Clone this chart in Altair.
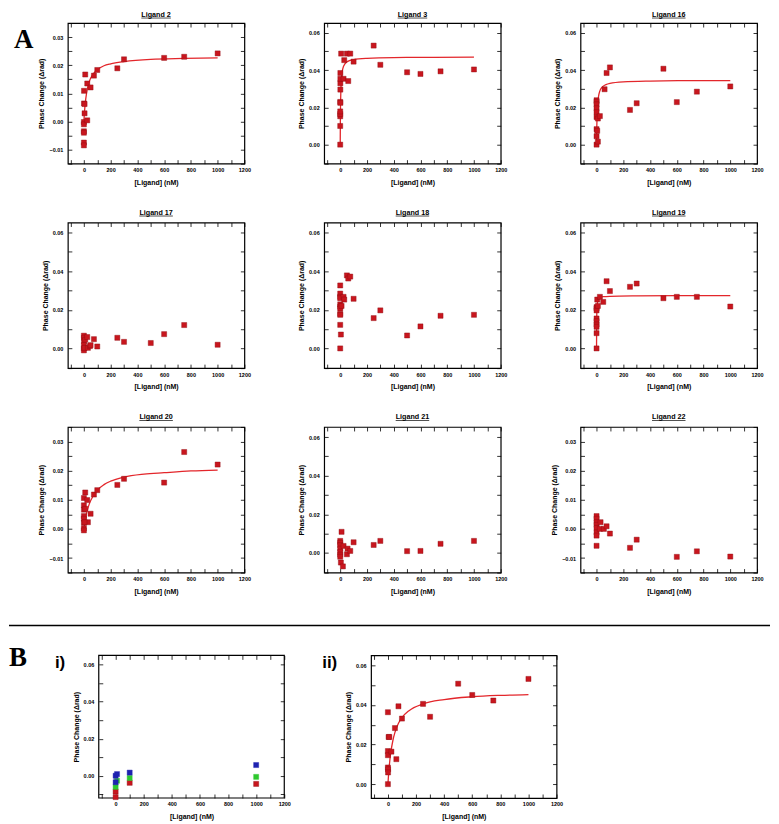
import altair as alt
import pandas as pd

# ---------------- data ----------------
L2_X = [0, 0, 0, 0, 0, 0, 1, 1, 5, 5, 10, 25, 25, 50, 75, 100, 250, 300, 600, 750, 1000]
L2_Y = [-0.0002, -0.0010, -0.0035, -0.0040, -0.0075, -0.0085, 0.0109, 0.0064, 0.0062, 0.0029,
        0.0167, 0.0004, 0.0135, 0.0121, 0.0163, 0.0183, 0.0189, 0.0221, 0.0226, 0.0230, 0.0242]
L2_CX = [0, 2, 5, 10, 20, 40, 70, 100, 150, 200, 300, 500, 750, 1000]
L2_CY = [0, 0.0017, 0.0037, 0.0064, 0.0101, 0.0141, 0.0169, 0.0184, 0.0198, 0.0205, 0.0213,
         0.0221, 0.0224, 0.0226]

L3_X = [0, 0, 0, 0, 0, 0, 1, 1, 1, 1, 1, 7, 25, 30, 50, 60, 75, 100, 250, 300, 500, 600, 750, 1000]
L3_Y = [0.0, 0.010, 0.0152, 0.0164, 0.0178, 0.0229, 0.0224, 0.0295, 0.0329, 0.0353, 0.0384,
        0.0488, 0.0353, 0.0453, 0.0488, 0.0341, 0.0488, 0.0445, 0.0531, 0.0428, 0.0388, 0.0379,
        0.0393, 0.0403]
L3_CX = [0, 1, 2, 3, 5, 8, 12, 20, 35, 60, 100, 200, 400, 700, 1000]
L3_CY = [0, 0.0118, 0.0188, 0.0235, 0.0294, 0.0342, 0.0376, 0.0409, 0.0433, 0.0448, 0.0456,
         0.0463, 0.0467, 0.0468, 0.0469]

L16_X = [0, 0, 0, 0, 0, 0, 0, 0, 0, 5, 10, 10, 25, 60, 75, 100, 250, 300, 500, 600, 750, 1000]
L16_Y = [0.0238, 0.0230, 0.0216, 0.0195, 0.0174, 0.0148, 0.0083, 0.0045, 0.0, 0.0074, 0.0140,
         0.0016, 0.0153, 0.0297, 0.0384, 0.0414, 0.0186, 0.0222, 0.0407, 0.0228, 0.0284, 0.0312]
L16_CX = [0, 1, 2, 4, 7, 10, 15, 25, 40, 70, 100, 200, 400, 700, 1000]
L16_CY = [0, 0.0058, 0.0099, 0.0153, 0.0201, 0.0230, 0.0259, 0.0288, 0.0307, 0.0322, 0.0329,
          0.0337, 0.0341, 0.0343, 0.0343]

L17_X = [0, 1, 1, 0, 0, 0, 5, 10, 25, 30, 45, 50, 75, 100, 250, 300, 500, 600, 750, 1000]
L17_Y = [0.0066, 0.0055, 0.0038, 0.0017, 0.0, -0.0010, 0.0003, 0.0045, 0.0059, 0.0003, 0.0012,
         0.0017, 0.0048, 0.0010, 0.0055, 0.0034, 0.0028, 0.0074, 0.0121, 0.0019]

L18_X = [0, 0, 0, 0, 0, 0, 0, 0, 0, 0, 5, 0, 10, 25, 30, 50, 60, 75, 100, 250, 300, 500, 600, 750, 1000]
L18_Y = [0.0326, 0.0284, 0.0267, 0.0260, 0.0228, 0.0216, 0.0207, 0.0179, 0.0174, 0.0122, 0.0072,
         0.0, 0.0220, 0.0267, 0.0253, 0.0378, 0.0362, 0.0372, 0.0257, 0.0157, 0.0197, 0.0067,
         0.0114, 0.0169, 0.0174]

L19_X = [0, 0, 0, 0, 0, 0, 0, 0, 0, 5, 10, 25, 50, 75, 100, 250, 300, 500, 600, 750, 1000]
L19_Y = [0.0214, 0.0207, 0.0197, 0.0155, 0.0141, 0.0124, 0.0112, 0.0079, 0.0, 0.0253, 0.0220,
         0.0267, 0.0241, 0.0348, 0.0297, 0.0319, 0.0336, 0.0260, 0.0267, 0.0267, 0.0217]
L19_CX = [0, 0.5, 1, 2, 4, 7, 12, 25, 50, 100, 300, 600, 1000]
L19_CY = [0, 0.0091, 0.0137, 0.0182, 0.0218, 0.0239, 0.0252, 0.0263, 0.0268, 0.0270, 0.0272,
          0.0273, 0.0273]

L20_X = [0, 0, 0, 0, 0, 0, 0, 0, 10, 10, 25, 30, 5, 50, 75, 100, 250, 300, 600, 750, 1000]
L20_Y = [0.0106, 0.0081, 0.0066, 0.0044, 0.0035, 0.0021, 0.0002, -0.0005, 0.0125, 0.0069, 0.0099,
         0.0023, 0.0023, 0.0052, 0.0118, 0.0133, 0.0151, 0.0172, 0.0159, 0.0264, 0.0221]
L20_CX = [0, 5, 10, 20, 40, 70, 100, 150, 200, 300, 450, 600, 800, 1000]
L20_CY = [0, 0.0016, 0.0030, 0.0053, 0.0085, 0.0114, 0.0133, 0.0152, 0.0164, 0.0178, 0.0188,
          0.0193, 0.0199, 0.0202]

L21_X = [0, 0, 0, 0, 0, 0, 0, 5, 20, 10, 25, 50, 55, 75, 100, 250, 300, 500, 600, 750, 1000]
L21_Y = [0.0062, 0.0052, 0.0040, 0.0022, 0.0005, -0.0009, -0.0020, -0.0050, -0.0070, 0.0109,
         0.0036, -0.0007, 0.0022, 0.0010, 0.0055, 0.0041, 0.0062, 0.0009, 0.0010, 0.0047, 0.0062]

L22_X = [0, 0, 0, 0, 0, 0, 0, 0, 25, 30, 55, 75, 100, 250, 300, 600, 750, 1000]
L22_Y = [0.0044, 0.0035, 0.0023, 0.0014, 0.0003, -0.0012, -0.0023, -0.0058, 0.0, 0.0023, 0.0,
         0.0009, -0.0016, -0.0065, -0.0037, -0.0096, -0.0077, -0.0095]

BI_BLUE_X = [0, 0, 10, 100, 1000]
BI_BLUE_Y = [0.0, -0.0035, 0.0009, 0.0017, 0.0058]
BI_GREEN_X = [0, 10, 100, 1000]
BI_GREEN_Y = [-0.0060, -0.0027, -0.0012, -0.0006]
BI_RED_X = [0, 0, 100, 1000]
BI_RED_Y = [-0.0085, -0.0115, -0.0038, -0.0044]

BII_X = [0, 0, 0, 0, 1, 1, 0, 5, 10, 25, 50, 60, 75, 100, 250, 300, 500, 600, 750, 1000]
BII_Y = [0.0363, 0.0167, 0.0146, 0.0084, 0.0075, 0.0059, 0.0, 0.0238, 0.0238, 0.0164, 0.0283,
         0.0126, 0.0393, 0.0331, 0.0405, 0.0340, 0.0507, 0.0450, 0.0422, 0.0531]
BII_CX = [0, 5, 10, 20, 35, 50, 75, 100, 150, 250, 400, 600, 800, 1000]
BII_CY = [0, 0.0052, 0.0094, 0.0157, 0.0219, 0.0261, 0.0307, 0.0336, 0.0371, 0.0405, 0.0427,
          0.0441, 0.0448, 0.0452]

XTICKS = list(range(-100, 1201, 100))
NARROW_TICKS = [round(-0.015 + 0.005 * i, 3) for i in range(11)]
WIDE_TICKS = [round(-0.01 + 0.01 * i, 2) for i in range(8)]

# ---------------- styling ----------------
FONT = "Liberation Sans"
RED = "#C8161E"
RED_EDGE = "#8E0B10"
CURVE = "#E3262B"
BLUE = "#1E22B0"
GREEN = "#2EC82E"
XDOM = [-120, 1200]
NARROW_DOM = [-0.015, 0.035]
WIDE_DOM = [-0.0102, 0.0652]
XLAB = "datum.value >= 0 && datum.value % 200 == 0 ? datum.label : ''"
NARROW_LAB = "abs(round(datum.value*1000)) % 10 == 0 ? format(datum.value, '.2f') : ''"
WIDE_LAB = "abs(round(datum.value*1000)) % 20 == 0 ? format(datum.value, '.2f') : ''"

ARIAL_B = {'L': 611, 'i': 278, 'g': 611, 'a': 556, 'n': 611, 'd': 611, ' ': 278}
for _c in "0123456789":
    ARIAL_B[_c] = 556

ONE = pd.DataFrame({'t': ['']})


def text_w(s, size):
    return sum(ARIAL_B.get(c, 556) for c in s) * size / 1000.0


def label_layer(text, x, y, size, font, align='left', baseline='alphabetic'):
    return alt.Chart(pd.DataFrame({'t': [text]})).mark_text(
        align=align, baseline=baseline, font=font, fontSize=size,
        fontWeight='bold', color='black').encode(
        text='t:N', x=alt.value(x), y=alt.value(y))


def hrule(x1, x2, y, width):
    return alt.Chart(ONE).mark_rule(color='black', strokeWidth=width).encode(
        x=alt.value(x1), x2=alt.value(x2), y=alt.value(y))


def vbound(x, y1, y2):
    return alt.Chart(ONE).mark_rule(opacity=0, strokeWidth=0.5).encode(
        x=alt.value(x), y=alt.value(y1), y2=alt.value(y2))


def panel(series, ydom, yticks, ylab, w, h, title=None, title_y=-8, curve=None, extras=(), xoff=0):
    allx, ally = [], []
    for sx, sy, _ in series:
        allx += sx
        ally += sy
    df = pd.DataFrame({'x': allx, 'y': ally})
    if xoff:
        xs = alt.Scale(domain=XDOM, nice=False, zero=False, range=[xoff, w])
    else:
        xs = alt.Scale(domain=XDOM, nice=False, zero=False)
    ys = alt.Scale(domain=ydom, nice=False, zero=False)
    common = dict(domain=False, grid=False, tickSize=4, tickWidth=0.8, tickColor='black')
    bottom = alt.Axis(orient='bottom', values=XTICKS, labelExpr=XLAB, format='d', offset=-4,
                      labelFont=FONT, labelFontSize=5.5, labelFontWeight='bold', labelColor='black',
                      labelPadding=4, labelFlush=False, labelOverlap=False,
                      title='[Ligand] (nM)', titleFont=FONT, titleFontSize=7,
                      titleFontWeight='bold', titleColor='black', titlePadding=5, **common)
    left = alt.Axis(orient='left', values=yticks, labelExpr=ylab, offset=-4 - xoff,
                    labelFont=FONT, labelFontSize=5.5, labelFontWeight='bold', labelColor='black',
                    labelPadding=5, labelFlush=False, labelOverlap=False,
                    title='Phase Change (Δrad)', titleFont=FONT, titleFontSize=7,
                    titleFontWeight='bold', titleColor='black', titlePadding=4, **common)
    top = alt.Axis(orient='top', values=XTICKS, labels=False, offset=-4, **common)
    right = alt.Axis(orient='right', values=yticks, labels=False, offset=-4, **common)
    layers = [
        alt.Chart(df).mark_point(opacity=0).encode(
            x=alt.X('x:Q', scale=xs, axis=bottom), y=alt.Y('y:Q', scale=ys, axis=left)),
        alt.Chart(df).mark_point(opacity=0).encode(
            x=alt.X('x:Q', scale=xs, axis=top, title=None),
            y=alt.Y('y:Q', scale=ys, axis=right, title=None)),
    ]
    if xoff:
        layers.append(alt.Chart(ONE).mark_rect(fillOpacity=0, stroke='black', strokeWidth=1.2).encode(
            x=alt.value(xoff), x2=alt.value(w), y=alt.value(0), y2=alt.value(h)))
    if curve is not None:
        cdf = pd.DataFrame({'x': curve[0], 'y': curve[1]})
        layers.append(alt.Chart(cdf).mark_line(color=CURVE, strokeWidth=1.3, interpolate='monotone').encode(
            x=alt.X('x:Q', scale=xs, axis=None), y=alt.Y('y:Q', scale=ys, axis=None)))
    for sx, sy, col in series:
        sdf = pd.DataFrame({'x': sx, 'y': sy})
        edge = RED_EDGE if col == RED else col
        layers.append(alt.Chart(sdf).mark_square(size=26, color=col, opacity=1, stroke=edge,
                                                 strokeWidth=0.4).encode(
            x=alt.X('x:Q', scale=xs, axis=None), y=alt.Y('y:Q', scale=ys, axis=None)))
    if title:
        tw = text_w(title, 7.2)
        layers.append(label_layer(title, w / 2, title_y, 7.2, FONT, align='center'))
        layers.append(hrule(w / 2 - tw / 2, w / 2 + tw / 2, title_y + 1.5, 0.7))
    layers += list(extras)
    ch = alt.layer(*layers).properties(width=w, height=h)
    if xoff:
        ch = ch.properties(view=alt.ViewBackground(strokeOpacity=0))
    return ch.resolve_axis(x='independent', y='independent')


W = 177
N = (NARROW_DOM, NARROW_TICKS, NARROW_LAB)
WD = (WIDE_DOM, WIDE_TICKS, WIDE_LAB)

# Row 1 (plot top at page y 20)
p2 = panel([(L2_X, L2_Y, RED)], *N, W, 141, title='Ligand 2', title_y=-6.5, curve=(L2_CX, L2_CY),
           extras=[vbound(-59, -12, 180), label_layer('A', -54, 25, 27, 'Liberation Serif')])
p3 = panel([(L3_X, L3_Y, RED)], *WD, W, 141, title='Ligand 3', title_y=-6.5, curve=(L3_CX, L3_CY))
p16 = panel([(L16_X, L16_Y, RED)], *WD, W, 141, title='Ligand 16', title_y=-6.5, curve=(L16_CX, L16_CY))

# Row 2 (plot top at page y 218)
p17 = panel([(L17_X, L17_Y, RED)], *WD, W, 146, title='Ligand 17', extras=[vbound(-59, -18, 185)])
p18 = panel([(L18_X, L18_Y, RED)], *WD, W, 146, title='Ligand 18')
p19 = panel([(L19_X, L19_Y, RED)], *WD, W, 146, title='Ligand 19', curve=(L19_CX, L19_CY))

# Row 3 (plot top at page y 421)
p20 = panel([(L20_X, L20_Y, RED)], *N, W, 146, title='Ligand 20', curve=(L20_CX, L20_CY),
            extras=[vbound(-59, -18, 197.25)])
p21 = panel([(L21_X, L21_Y, RED)], *WD, W, 146, title='Ligand 21')
p22 = panel([(L22_X, L22_Y, RED)], *N, W, 146, title='Ligand 22')

# Row B (cell origin at page x 67, frame of i) at page x 98, plot top at page y 649)
BOFF = 31
BW = 186
BH = 143
bi = panel([(BI_RED_X, BI_RED_Y, RED), (BI_GREEN_X, BI_GREEN_Y, GREEN), (BI_BLUE_X, BI_BLUE_Y, BLUE)],
           [-0.012, 0.065], WIDE_TICKS, WIDE_LAB, BW + BOFF, BH, xoff=BOFF,
           extras=[hrule(-59, 704, -30, 1.5),
                   label_layer('B', -59, 11, 27, 'Liberation Serif'),
                   label_layer('i)', -13, 13, 17, FONT)])
bii = panel([(BII_X, BII_Y, RED)], [-0.007, 0.065], WIDE_TICKS, WIDE_LAB, BW, BH,
            curve=(BII_CX, BII_CY),
            extras=[label_layer('ii)', -49, 13, 17, FONT)])

row1 = alt.hconcat(p2, p3, p16, spacing=80, bounds='flush')
row2 = alt.hconcat(p17, p18, p19, spacing=80, bounds='flush')
row3 = alt.hconcat(p20, p21, p22, spacing=80, bounds='flush')
rowb = alt.hconcat(bi, bii, spacing=87, bounds='flush')

chart = alt.vconcat(row1, row2, row3, rowb, spacing=0).properties(
    padding=0).configure_view(stroke='black', strokeWidth=1.2).configure_axis(grid=False, domain=False)

chart.save("out.html", embed_options={"renderer": "svg", "actions": False})
